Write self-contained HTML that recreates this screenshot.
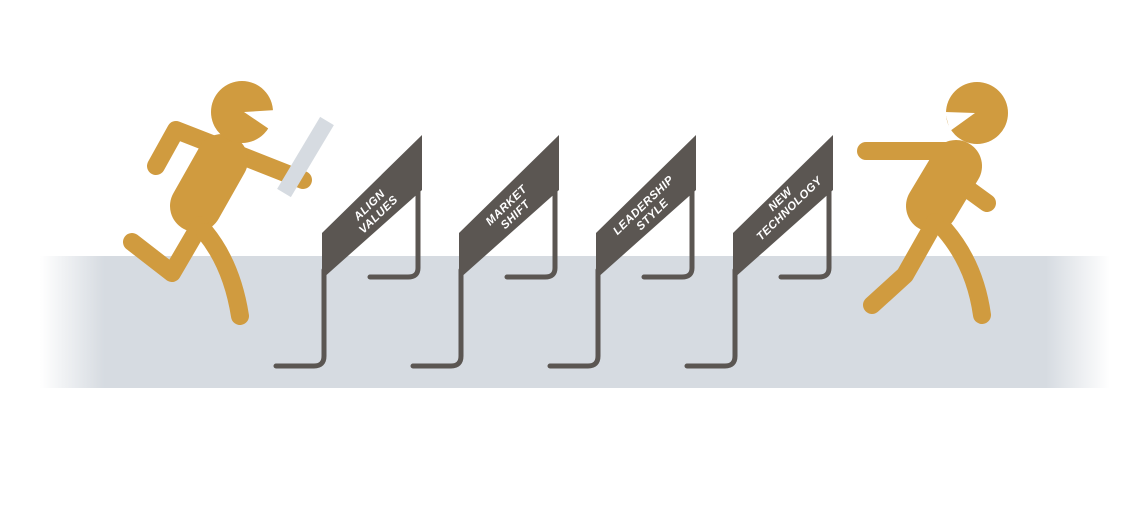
<!DOCTYPE html>
<html><head><meta charset="utf-8"><style>
html,body{margin:0;padding:0;background:#fff;width:1129px;height:520px;overflow:hidden}
svg{display:block}
text{font-family:"Liberation Sans",sans-serif;font-weight:bold;font-style:italic;fill:#fff;stroke:none;font-size:11.5px;letter-spacing:0.5px}
</style></head><body>
<svg width="1129" height="520" viewBox="0 0 1129 520">
<defs>
<linearGradient id="band" x1="0" x2="1" y1="0" y2="0">
<stop offset="0" stop-color="#d6dbe1" stop-opacity="0"/>
<stop offset="0.06" stop-color="#d6dbe1"/>
<stop offset="0.94" stop-color="#d6dbe1"/>
<stop offset="1" stop-color="#d6dbe1" stop-opacity="0"/>
</linearGradient>
</defs>
<rect x="40" y="256" width="1070" height="132" fill="url(#band)"/>

<g id="hurdles" fill="none" stroke="#5b5652" stroke-width="5" stroke-linecap="round"></g>

<g stroke="#d09b3f" stroke-linecap="round" stroke-linejoin="round" fill="none">
<polyline points="156,166 176,130 235,153" stroke-width="18"/>
<line x1="232" y1="152" x2="303" y2="180" stroke-width="18"/>
<line x1="222" y1="160" x2="196" y2="206" stroke-width="52"/>
<polyline points="200,225 172,273 132,242" stroke-width="18"/>
<path d="M205,232 Q232,265 240,316" stroke-width="18"/>
<circle cx="242" cy="112" r="31" fill="#d09b3f" stroke="none"/>
<polygon points="244,112 276,110 272,131" fill="#fff" stroke="none"/>
<line x1="284" y1="193" x2="327" y2="121" stroke="#d6dbe1" stroke-width="16" stroke-linecap="butt"/>
</g>

<g stroke="#d09b3f" stroke-linecap="round" stroke-linejoin="round" fill="none">
<line x1="866" y1="151" x2="962" y2="151" stroke-width="18"/>
<polyline points="965,187 987,203" stroke-width="18"/>
<line x1="956" y1="166" x2="932" y2="206" stroke-width="52"/>
<polyline points="935,222 905,275 872,305" stroke-width="18"/>
<path d="M945,230 Q975,265 982,315" stroke-width="18"/>
<circle cx="977" cy="113" r="31" fill="#d09b3f" stroke="none"/>
<polygon points="975,113 945,112 950,131" fill="#fff" stroke="none"/>
</g>
</svg>
<script>
const labels1=["ALIGN","MARKET","LEADERSHIP","NEW"];
const labels2=["VALUES","SHIFT","STYLE","TECHNOLOGY"];
const g=document.getElementById('hurdles');


const NS="http://www.w3.org/2000/svg";
labels1.forEach((l,i)=>{
  const x=322+i*137;
  const h=document.createElementNS(NS,'g');
  
  
  const p1=document.createElementNS(NS,'path');
  p1.setAttribute('d',`M${x+2},270 L${x+2},356 Q${x+2},366 ${x-8},366 L${x-46},366`);
  
  
  h.appendChild(p1);
  const p2=document.createElementNS(NS,'path');
  p2.setAttribute('d',`M${x+96},180 L${x+96},268 Q${x+96},277 ${x+86},277 L${x+48},277`);
  
  
  h.appendChild(p2);
  const b=document.createElementNS(NS,'polygon');
  b.setAttribute('points',`${x},233 ${x+100},135 ${x+100},190 ${x},279`);
  b.setAttribute('fill','#5b5652');b.setAttribute('stroke','none');
  
  
  h.appendChild(b);
  const t=document.createElementNS(NS,'text');
  t.setAttribute('transform',`translate(${x+52},${i==3?204:210}) rotate(-44)`);
  t.setAttribute('text-anchor','middle');
  t.setAttribute('fill','#fff');
  t.setAttribute('stroke','none');
  
  
  const a=document.createElementNS(NS,'tspan');a.setAttribute('x',0);a.setAttribute('y',-3);a.textContent=l;
  const c=document.createElementNS(NS,'tspan');c.setAttribute('x',0);c.setAttribute('y',10);c.textContent=labels2[i];
  t.appendChild(a);t.appendChild(c);h.appendChild(t);
  g.appendChild(h);
});
</script>
</body></html>
